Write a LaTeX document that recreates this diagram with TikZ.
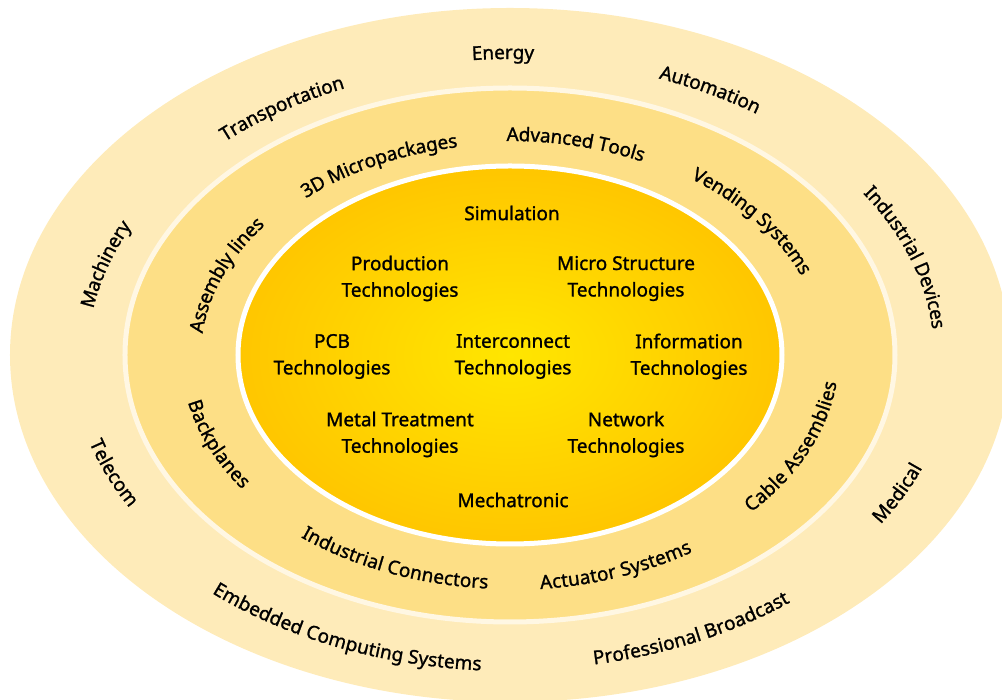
\documentclass[tikz,border=0pt]{standalone}
\usepackage{fontspec}
\setmainfont{Noto Sans}[FakeBold=1.2]
\usetikzlibrary{decorations.text}

\definecolor{outerring}{HTML}{FEEBB9}
\definecolor{middlering}{HTML}{FDDF86}
\definecolor{ringedge}{HTML}{FFF7E3}
\definecolor{coreedge}{HTML}{FFC600}
\definecolor{corecenter}{HTML}{FFE600}

\newcommand{\labelfont}{\fontsize{19}{23}\selectfont}
% text on an elliptic arc: x radius, y radius, angle, text
\newcommand{\ringcw}[4]{%
  \path[decorate, decoration={text along path, text align=center, raise=-6pt,
    text={|\labelfont|#4}}]
    ({#1*cos(#3+30)}, {#2*sin(#3+30)}) arc[start angle={#3+30}, end angle={#3-30}, x radius=#1, y radius=#2];}
\newcommand{\ringccw}[4]{%
  \path[decorate, decoration={text along path, text align=center, raise=-6pt,
    text={|\labelfont|#4}}]
    ({#1*cos(#3-30)}, {#2*sin(#3-30)}) arc[start angle={#3-30}, end angle={#3+30}, x radius=#1, y radius=#2];}

\begin{document}
\begin{tikzpicture}[x=1pt, y=1pt]
\tikzstyle{every node}=[font=\fontsize{19}{26.5}\selectfont, align=center, inner sep=0pt]
\useasboundingbox (-510,-345) rectangle (492,355);

% rings
\fill[outerring] (0,0) ellipse [x radius=500, y radius=347];
\draw[ringedge, line width=5pt, fill=middlering] (0,0) ellipse [x radius=385, y radius=267];
\shadedraw[draw=white, line width=5pt, inner color=corecenter, outer color=coreedge]
  (0,0) ellipse [x radius=272, y radius=189];

% outer ring
\ringcw{435}{302}{91}{Energy}
\ringcw{427}{296}{124.6}{Transportation}
\ringcw{434}{301}{60.6}{Automation}
\ringcw{428}{297}{163.8}{Machinery}
\ringcw{430}{298}{18}{Industrial Devices}
\ringccw{433}{300}{201.1}{Telecom}
\ringccw{437}{303}{335.1}{Medical}
\ringccw{447}{310}{246.6}{Embedded Computing Systems}
\ringccw{446}{309}{295.9}{Professional Broadcast}

% middle ring
\ringcw{315}{220}{77}{Advanced Tools}
\ringcw{311}{217}{117}{3D Micropackages}
\ringcw{319}{222}{36.5}{Vending Systems}
\ringcw{315}{219}{159.6}{Assembly lines}
\ringccw{323}{225}{201.7}{Backplanes}
\ringccw{323}{225}{336.6}{Cable Assemblies}
\ringccw{327}{228}{247.6}{Industrial Connectors}
\ringccw{328}{229}{290.3}{Actuator Systems}

% core
\node (sim) at (2,142) {Simulation};
\node (prod) at (-110,76.5) {Production\\Technologies};
\node (micro) at (116,76.5) {Micro Structure\\Technologies};
\node (pcb) at (-178,-1.5) {PCB\\Technologies};
\node (inter) at (3,-1.5) {Interconnect\\Technologies};
\node (info) at (179,-1.5) {Information\\Technologies};
\node (metal) at (-110,-79.5) {Metal Treatment\\Technologies};
\node (net) at (116,-79.5) {Network\\Technologies};
\node (mecha) at (3,-145) {Mechatronic};
\end{tikzpicture}
\end{document}
